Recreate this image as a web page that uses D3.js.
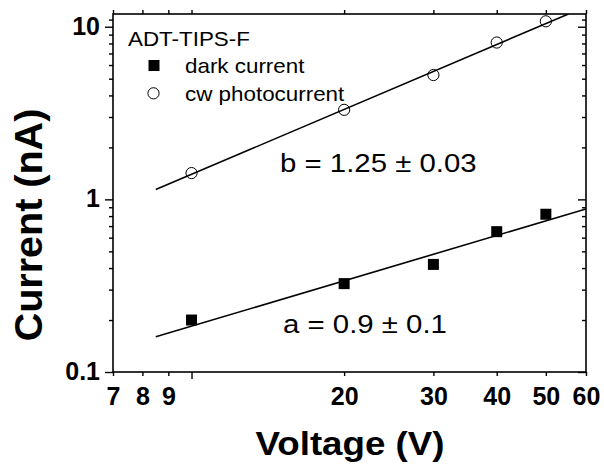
<!DOCTYPE html>
<html>
<head>
<meta charset="utf-8">
<script src="https://cdn.jsdelivr.net/npm/d3@7"></script>
<style>
  body { margin: 0; background: #fff; }
  svg { display: block; }
  text { font-family: "Liberation Sans", Arial, sans-serif; fill: #000; }
</style>
</head>
<body>
<svg id="chart" width="604" height="465"></svg>
<script>
// values
var voltage = [10, 20, 30, 40, 50];
var darkCurrent = [0.2, 0.325, 0.42, 0.65, 0.82];
var photoCurrent = [1.42, 3.3, 5.25, 8.1, 10.75];
var darkFit = [[8.5, 0.16], [60, 0.88]];
var photoFit = [[8.5, 1.14], [55.4, 11.85]];
var xTicks = [7, 8, 9, 10, 20, 30, 40, 50, 60];
var xLabelled = [7, 8, 9, 20, 30, 40, 50, 60];
var yMajor = [0.1, 1, 10];
var yMinor = [0.2, 0.3, 0.4, 0.5, 0.6, 0.7, 0.8, 0.9, 2, 3, 4, 5, 6, 7, 8, 9, 11];
var legendTitle = "ADT-TIPS-F";
var seriesNames = ["dark current", "cw photocurrent"];
var fitLabels = ["a = 0.9 \u00b1 0.1", "b = 1.25 \u00b1 0.03"];

var svg = d3.select("#chart");
var pL = 113, pR = 586, pT = 14, pB = 372;

var x = d3.scaleLog().domain([7, 60]).range([pL, pR]);
var y = d3.scaleLog().domain([0.1, 11.85]).range([pB, pT]);

svg.append("clipPath").attr("id", "plotclip")
  .append("rect").attr("x", pL).attr("y", pT).attr("width", pR - pL).attr("height", pB - pT);

// frame
svg.append("rect")
  .attr("x", pL).attr("y", pT).attr("width", pR - pL).attr("height", pB - pT)
  .attr("fill", "none").attr("stroke", "#000").attr("stroke-width", 1.6);

function tidy(g) {
  g.select(".domain").remove();
  g.selectAll(".tick line").attr("stroke", "#000").attr("stroke-width", 1.4);
}

// text stretched a little sideways, like the picture
function label(px, py, sx, size, str, bold) {
  return svg.append("text")
    .attr("transform", "translate(" + px + "," + py + ") scale(" + sx + ",1)")
    .attr("font-size", size).attr("font-weight", bold ? "bold" : "normal")
    .text(str);
}

// bottom axis
var bx = svg.append("g").attr("transform", "translate(0," + pB + ")")
  .call(d3.axisBottom(x).tickValues(xTicks).tickSize(4).tickPadding(8)
    .tickFormat(function(d){ return xLabelled.indexOf(d) >= 0 ? d : ""; }));
tidy(bx);
bx.selectAll(".tick line").filter(function(d){ return d === 10; }).attr("y2", 7);
bx.selectAll(".tick text").attr("font-size", 25).attr("font-weight", "bold")
  .attr("font-family", "Liberation Sans, Arial, sans-serif").attr("dy", "0.85em");

// top ticks
var tx = svg.append("g").attr("transform", "translate(0," + pT + ")")
  .call(d3.axisTop(x).tickValues(xTicks).tickSize(4).tickFormat(""));
tidy(tx);

// left axis
var ly = svg.append("g").attr("transform", "translate(" + pL + ",0)")
  .call(d3.axisLeft(y).tickValues(yMajor).tickSize(8).tickPadding(5)
    .tickFormat(function(d){ return d >= 1 ? d3.format("d")(d) : d3.format(".1f")(d); }));
tidy(ly);
ly.selectAll(".tick text").attr("font-size", 25).attr("font-weight", "bold")
  .attr("font-family", "Liberation Sans, Arial, sans-serif").attr("dy", "0.3em");
var lyMinor = svg.append("g").attr("transform", "translate(" + pL + ",0)")
  .call(d3.axisLeft(y).tickValues(yMinor.filter(function(v){ return v <= 11.85; })).tickSize(4).tickFormat(""));
tidy(lyMinor);

// right ticks, inward
var ry = svg.append("g").attr("transform", "translate(" + pR + ",0)")
  .call(d3.axisLeft(y).tickValues(yMajor).tickSize(8).tickFormat(""));
tidy(ry);
var ryMinor = svg.append("g").attr("transform", "translate(" + pR + ",0)")
  .call(d3.axisLeft(y).tickValues(yMinor).tickSize(4).tickFormat(""));
tidy(ryMinor);

// axis titles
label(350, 455, 1.08, 34, "Voltage (V)", true).attr("text-anchor", "middle");
svg.append("text")
  .attr("transform", "translate(42,225) rotate(-90) scale(1.04,1)").attr("text-anchor", "middle")
  .attr("font-size", 38).attr("font-weight", "bold")
  .text("Current (nA)");

// fit lines
var line = d3.line().x(function(d){ return x(d[0]); }).y(function(d){ return y(d[1]); });
var plot = svg.append("g").attr("clip-path", "url(#plotclip)");
[darkFit, photoFit].forEach(function(f){
  plot.append("path").attr("d", line(f))
    .attr("fill", "none").attr("stroke", "#000").attr("stroke-width", 1.6);
});

// points
var sq = 11;
plot.selectAll(".dark").data(voltage).enter().append("rect")
  .attr("x", function(d){ return x(d) - sq / 2; })
  .attr("y", function(d, i){ return y(darkCurrent[i]) - sq / 2; })
  .attr("width", sq).attr("height", sq).attr("fill", "#000");
plot.selectAll(".photo").data(voltage).enter().append("circle")
  .attr("cx", function(d){ return x(d); })
  .attr("cy", function(d, i){ return y(photoCurrent[i]); })
  .attr("r", 5.6).attr("fill", "none").attr("stroke", "#000").attr("stroke-width", 1);

// legend
label(128, 45.5, 1.12, 20, legendTitle);
svg.append("rect").attr("x", 148.5).attr("y", 60).attr("width", 11).attr("height", 11).attr("fill", "#000");
svg.append("circle").attr("cx", 153.5).attr("cy", 93.3).attr("r", 5.6)
  .attr("fill", "none").attr("stroke", "#000").attr("stroke-width", 1);
label(185, 73.3, 1.12, 20, seriesNames[0]);
label(185, 101.3, 1.12, 20, seriesNames[1]);

// fit annotations
label(283, 333.3, 1.13, 26, fitLabels[0]);
label(280, 171.7, 1.13, 26, fitLabels[1]);
</script>
</body>
</html>
